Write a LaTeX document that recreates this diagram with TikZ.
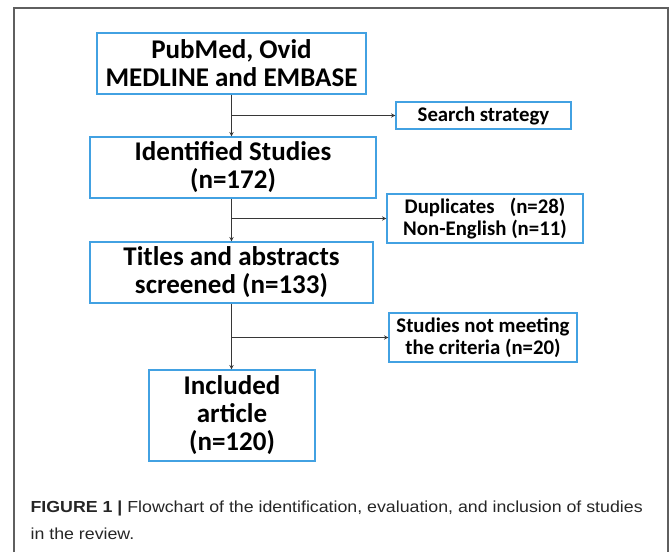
\documentclass[tikz,border=0pt]{standalone}
\usepackage{fontspec}
\setmainfont{Carlito}
\newfontfamily\captionfont[FakeStretch=1.11]{Liberation Sans}
\usepackage{xcolor}
\usetikzlibrary{arrows}
\usetikzlibrary{calc}

\definecolor{boxblue}{RGB}{66,161,226}
\definecolor{framegray}{RGB}{95,95,95}
\definecolor{arrowgray}{RGB}{55,55,55}

\begin{document}
\begin{tikzpicture}[
                    x = 1pt, y = -1pt, % pixel grid, y downwards
                    > = stealth, % arrow head style
                    semithick % line style
            ]

            \tikzstyle{mainbox}=[
                draw = boxblue,
                line width = 1.4pt,
                fill = white,
                align = center,
                inner sep = 0pt,
                font = \fontsize{27}{28}\selectfont\bfseries
            ]
            \tikzstyle{sidebox}=[
                draw = boxblue,
                line width = 1.4pt,
                fill = white,
                align = center,
                inner sep = 0pt,
                font = \fontsize{20.8}{22}\selectfont\bfseries
            ]
            \tikzstyle{flow}=[
                ->,
                draw = arrowgray,
                line width = 0.9pt
            ]

            \useasboundingbox (0,0) rectangle (669,552);
            \draw[framegray, line width = 1.1pt] (14,552) -- (14,8) -- (668,8) -- (668,552);

            \node[mainbox, minimum width = 269pt, minimum height = 61pt] (DB) at (231.5,63.5) {PubMed, Ovid\\MEDLINE and EMBASE};
            \node[sidebox, minimum width = 175pt, minimum height = 27pt] (SS) at (483.5,115.5) {Search strategy};
            \node[mainbox, minimum width = 286pt, minimum height = 61pt] (ID) at (233,167.5) {Identified Studies\\(n=172)};
            \node[sidebox, minimum width = 196pt, minimum height = 49pt] (DU) at (485,218.5) {Duplicates \enspace(n=28)\\Non-English (n=11)};
            \node[mainbox, minimum width = 283pt, minimum height = 61pt] (TA) at (231.5,272.5) {Titles and abstracts\\screened (n=133)};
            \node[sidebox, minimum width = 188pt, minimum height = 49pt] (NM) at (483,337.5) {Studies not meeting\\the criteria (n=20)};
            \node[mainbox, minimum width = 166pt, minimum height = 91pt] (IN) at (232,415.5) {Included\\article\\(n=120)};

            \draw[flow] (DB.south) -- (DB.south |- ID.north);
            \draw[flow] (DB.south |- SS) -- (SS.west);
            \draw[flow] (DB.south |- ID.south) -- (DB.south |- TA.north);
            \draw[flow] (DB.south |- DU) -- (DU.west);
            \draw[flow] (DB.south |- TA.south) -- (DB.south |- IN.north);
            \draw[flow] (DB.south |- NM) -- (NM.west);

            % caption
            \node[anchor = west, align = left, font = \captionfont\fontsize{16}{27}\selectfont, text = black!85] (CAP) at (27,520)
                {\textbf{FIGURE 1 |} Flowchart of the identification, evaluation, and inclusion of studies\\in the review.};
        \end{tikzpicture}
\end{document}
